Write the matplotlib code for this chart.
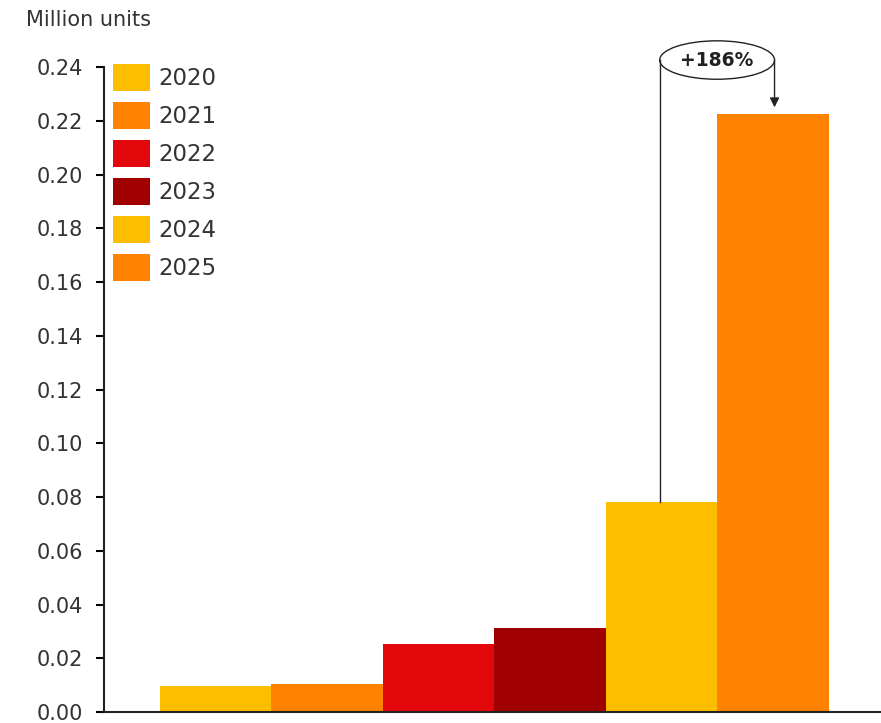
import matplotlib
matplotlib.use("Agg")
import matplotlib.pyplot as plt
from matplotlib.patches import Ellipse

plt.rcParams["font.family"] = ["DejaVu Sans"]

years = ["2020", "2021", "2022", "2023", "2024", "2025"]
values = [0.0097, 0.0104, 0.0253, 0.0313, 0.0780, 0.2225]
colors = ["#FDBE00", "#FF8200", "#E2070A", "#A10000", "#FDBE00", "#FF8200"]
growth_label = "+186%"
yticks = [0.00, 0.02, 0.04, 0.06, 0.08, 0.10, 0.12, 0.14, 0.16, 0.18, 0.20, 0.22, 0.24]

fig = plt.figure(figsize=(8.81, 7.23), dpi=100)
ax = fig.add_axes([0.118, 0.0152, 0.882, 0.8921])

x = list(range(len(years)))
bars = ax.bar(x, values, width=1.0, color=colors, label=years)

ax.set_xlim(-1.0, 5.97)
ax.set_ylim(0, 0.24)
ax.set_yticks(yticks)
ax.set_yticklabels([f"{t:.2f}" for t in yticks], fontsize=15, color="#333333")
ax.set_xticks([])
ax.tick_params(axis="y", length=6, width=1.5, direction="out", pad=9)
for side in ["top", "right"]:
    ax.spines[side].set_visible(False)
for side in ["left", "bottom"]:
    ax.spines[side].set_linewidth(1.5)
    ax.spines[side].set_color("#222222")

fig.text(0.03, 0.973, "Million units", fontsize=15, color="#333333", va="center")

ax.legend(handles=bars.patches, labels=years, loc="upper left",
          bbox_to_anchor=(0.128, 0.912), bbox_transform=fig.transFigure,
          frameon=False, fontsize=16.5, handlelength=1.62, handleheight=1.44,
          labelspacing=0.48, handletextpad=0.35, borderpad=0, borderaxespad=0,
          labelcolor="#333333")

# growth annotation
ey = 0.2426
ax.add_patch(Ellipse((4.5, ey), 1.03, 0.0143, fill=False, edgecolor="#222222",
                     linewidth=1.0, clip_on=False, zorder=5))
ax.plot([3.985, 3.985], [ey, values[4]], color="#222222", linewidth=1.0, clip_on=False)
ax.annotate("", xy=(5.015, values[5] + 0.0025), xytext=(5.015, ey),
            arrowprops=dict(arrowstyle="-|>", color="#222222", lw=1.0,
                            mutation_scale=14, shrinkA=0, shrinkB=0),
            annotation_clip=False)
ax.text(4.5, ey, growth_label, ha="center", va="center", fontsize=13.5,
        fontweight="bold", color="#222222", clip_on=False)

fig.savefig("out.png", dpi=100)
